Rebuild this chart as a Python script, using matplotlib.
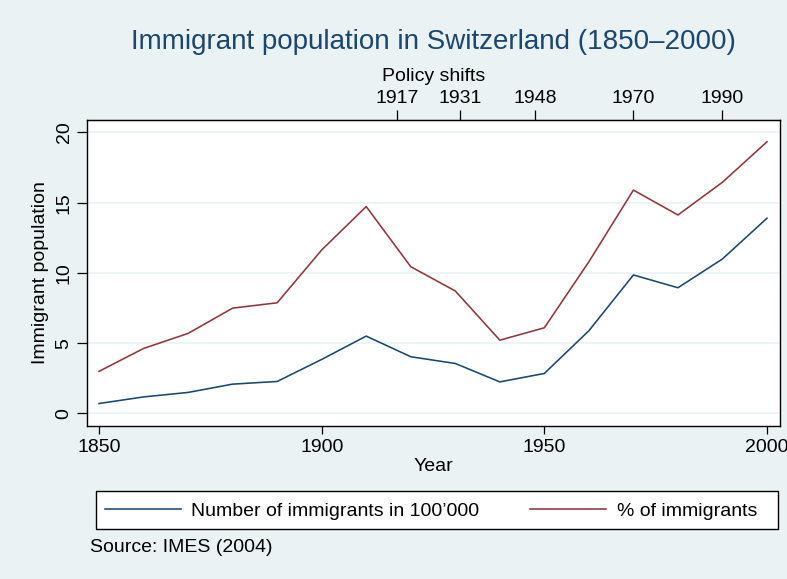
import matplotlib
matplotlib.use("Agg")
import matplotlib.pyplot as plt
from matplotlib.patches import Rectangle

# Data
years = [1850, 1860, 1870, 1880, 1890, 1900, 1910, 1920,
         1930, 1940, 1950, 1960, 1970, 1980, 1990, 2000]
immigrants_100k = [0.71, 1.18, 1.50, 2.09, 2.28, 3.85, 5.51, 4.04,
                   3.56, 2.25, 2.85, 5.89, 9.86, 8.95, 11.0, 13.9]
pct_immigrants = [3.0, 4.63, 5.70, 7.5, 7.88, 11.64, 14.73, 10.45,
                  8.72, 5.22, 6.1, 10.8, 15.9, 14.13, 16.46, 19.34]
policy_years = [1917, 1931, 1948, 1970, 1990]
x_ticks = [1850, 1900, 1950, 2000]
y_ticks = [0, 5, 10, 15, 20]

BG = '#eaf2f3'
NAVY = '#1a476f'
MAROON = '#90353b'
FS = 14

plt.rcParams['font.family'] = ['Liberation Sans', 'DejaVu Sans']

fig = plt.figure(figsize=(7.87, 5.79), dpi=100, facecolor=BG)
ax = fig.add_axes([0.110, 0.264, 0.881, 0.529])
ax.set_facecolor('white')

ax.plot(years, immigrants_100k, color=NAVY, lw=1.15, label="Number of immigrants in 100\u2019000")
ax.plot(years, pct_immigrants, color=MAROON, lw=1.15, label='% of immigrants')

ax.set_xlim(1847.2, 2002.9)
ax.set_ylim(-0.9, 20.9)
ax.set_xticks(x_ticks)
ax.set_yticks(y_ticks)
ax.grid(axis='y', color=BG, lw=1.2)
ax.set_axisbelow(True)

for s in ax.spines.values():
    s.set_linewidth(1.0)
    s.set_color('black')

ax.tick_params(axis='x', direction='out', length=6, width=0.9, labelsize=FS, pad=3)
ax.tick_params(axis='y', direction='out', length=7, width=0.9, labelsize=FS, pad=3)
for lab in ax.get_yticklabels():
    lab.set_rotation(90)
    lab.set_va('center')

ax.set_xlabel('Year', fontsize=FS, labelpad=2)
ax.set_ylabel('Immigrant population', fontsize=FS, labelpad=5)

# top axis with policy years
top = ax.secondary_xaxis('top')
top.set_xticks(policy_years)
top.tick_params(direction='out', length=7, width=0.9, labelsize=FS, pad=2)
top.set_xlabel('Policy shifts', fontsize=FS, labelpad=7)

fig.text(433 / 787, 1 - 42 / 579, 'Immigrant population in Switzerland (1850\u20132000)',
         fontsize=20, color=NAVY, ha='center', va='center')

# legend box drawn separately so its width matches the reference
fig.patches.append(Rectangle((96 / 787, 1 - 529 / 579), 682 / 787, 38 / 579,
                             transform=fig.transFigure, facecolor='white',
                             edgecolor='black', lw=1.0, zorder=1))
leg = fig.legend(loc='lower left', ncol=2, mode='expand',
                 bbox_to_anchor=(96 / 787, 1 - 529 / 579, 670 / 787, 38 / 579),
                 fontsize=FS, frameon=False,
                 handlelength=3.9, handletextpad=0.55, borderpad=0.45,
                 borderaxespad=0, columnspacing=2)
leg.set_zorder(2)

fig.text(90 / 787, 1 - 548 / 579, 'Source: IMES (2004)', fontsize=FS, va='center')

fig.savefig('out.png', dpi=100, facecolor=BG)
